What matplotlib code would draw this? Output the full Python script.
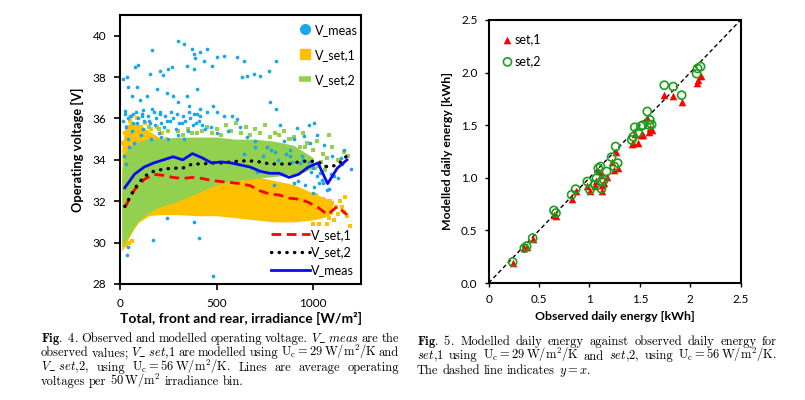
import matplotlib
matplotlib.use("Agg")
import matplotlib.pyplot as plt
from matplotlib.lines import Line2D

plt.rcParams['mathtext.fontset'] = 'cm'
plt.rcParams['font.family'] = ['Lato', 'DejaVu Sans']

# ---- Fig. 4 data: 50 W/m2 bin averages ----
bin_irr = [25, 75, 125, 175, 225, 275, 325, 375, 425, 475, 525, 575, 625, 675,
           725, 775, 825, 875, 925, 975, 1025, 1075, 1125, 1175]
avg_set1 = [31.7, 32.55, 33.05, 33.3, 33.25, 33.15, 33.1, 33.15, 33.1, 33.0, 32.95, 32.9,
            32.85, 32.75, 32.5, 32.35, 32.3, 32.15, 32.1, 31.95, 31.7, 31.35, 31.75, 31.35]
avg_set2 = [31.75, 32.6, 33.2, 33.45, 33.55, 33.6, 33.6, 33.8, 33.8, 33.85, 33.85, 33.9,
            33.95, 33.95, 33.9, 33.8, 33.8, 33.8, 33.9, 33.95, 33.9, 33.65, 33.75, 34.2]
avg_meas = [32.65, 33.3, 33.65, 33.85, 34.0, 34.15, 34.0, 34.3, 34.1, 33.85, 33.9, 33.85,
            33.75, 33.65, 33.45, 33.35, 33.35, 33.15, 33.3, 33.65, 33.85, 32.85, 33.6, 34.0]

# dense parts of the modelled point clouds (envelopes)
set1_band_irr = [10, 25, 50, 75, 100, 150, 200, 300, 400, 500, 600, 700, 800, 900,
                 1000, 1050, 1100]
set1_low = [29.6, 29.8, 30.3, 30.7, 31.0, 31.3, 31.35, 31.35, 31.3, 31.3, 31.2, 31.1,
            31.0, 31.0, 31.1, 31.2, 31.4]
set1_high = [34.6, 35.5, 35.8, 35.8, 35.7, 35.4, 35.1, 34.7, 34.2, 33.7, 33.4, 33.2,
             33.0, 32.8, 32.4, 32.2, 32.0]
set2_band_irr = [10, 25, 50, 75, 100, 150, 200, 300, 400, 500, 600, 700, 800, 900, 950, 1000]
set2_low = [29.8, 30.0, 30.4, 30.8, 31.1, 31.45, 31.7, 32.0, 32.4, 32.8, 33.0, 33.1,
            33.2, 33.3, 33.4, 33.6]
set2_high = [33.5, 34.3, 34.6, 34.8, 34.9, 35.0, 35.0, 35.1, 35.1, 35.1, 35.0, 35.0,
             34.9, 34.7, 34.4, 34.1]

# loose points outside the dense clouds
meas_irr = [17, 35, 43, 61, 78, 95, 87, 104, 121, 52, 69, 138, 164, 156, 190, 208, 225, 251,
            268, 303, 329, 372, 381, 415, 450, 389, 346, 381, 433, 476, 502, 536, 606, 640,
            657, 631, 692, 727, 770, 806, 779, 806, 830, 917, 977, 1003, 1021, 242, 277, 303,
            346, 398, 355, 415, 484, 536, 580, 606, 502, 208, 164, 26, 112, 450, 398, 900,
            952, 986, 1055, 1099, 1142, 1159, 1194, 1003, 1047, 1073, 1038, 934, 900, 839,
            796, 242, 381, 173, 407, 43, 35, 484, 709, 882,
            30, 60, 90, 120, 150, 180, 200, 230, 260, 290, 320, 350, 380, 410, 440, 470,
            40, 75, 110, 160, 210, 250, 300, 330, 20, 30, 45, 500, 560, 620, 660, 700, 760,
            800, 850, 880, 950, 980, 1000, 1060, 1110, 1030, 1080, 1150, 920, 960, 1000,
            25, 55, 85, 115, 145, 175, 205, 235, 265, 295, 325, 355, 385, 415,
            15, 40, 65, 95, 125, 155, 185, 215, 245, 275, 305, 335, 365, 395, 425,
            640, 700, 740, 780, 820, 860, 890, 940, 990, 1020, 1050, 1090, 1130]
meas_v = [37.9, 38.0, 37.5, 37.1, 38.5, 38.6, 37.5, 36.9, 36.4, 36.1, 36.2, 37.1, 39.3, 38.15,
          37.4, 38.3, 38.1, 38.4, 38.5, 39.75, 39.6, 39.35, 39.1, 39.2, 39.35, 38.9, 38.55,
          38.4, 38.8, 38.55, 38.95, 39.0, 38.95, 38.8, 38.05, 38.0, 38.15, 38.05, 38.3, 38.8,
          36.8, 36.45, 35.7, 35.55, 35.7, 35.8, 35.2, 37.25, 37.1, 36.8, 37.1, 37.4, 36.6,
          36.45, 36.6, 36.1, 36.1, 35.95, 36.3, 36.3, 36.45, 36.35, 36.1, 36.3, 36.2, 35.0,
          35.15, 34.8, 34.7, 34.2, 34.1, 34.5, 33.55, 32.7, 33.05, 32.55, 33.35, 33.85, 32.9,
          33.3, 32.8, 31.2, 31.0, 30.15, 30.2, 29.8, 29.4, 28.4, 33.4, 34.2,
          35.6, 35.4, 35.8, 35.5, 35.9, 35.7, 35.3, 35.6, 35.9, 35.5, 35.8, 35.4, 35.7, 35.9,
          35.5, 35.6, 35.0, 34.8, 35.2, 35.0, 35.1, 35.0, 35.2, 35.0, 34.2, 33.8, 34.6, 35.3,
          35.4, 35.6, 35.1, 34.9, 34.6, 34.4, 34.9, 34.5, 34.0, 33.9, 33.6, 33.7, 33.2, 32.9,
          32.6, 33.8, 33.0, 32.8, 32.4,
          36.2, 36.1, 36.3, 36.2, 36.1, 36.3, 36.2, 36.1, 36.3, 36.2, 36.1, 36.3, 36.2, 36.1,
          35.9, 36.0, 35.8, 36.0, 35.9, 35.8, 36.0, 35.8, 35.9, 36.0, 35.8, 35.9, 36.0, 35.8,
          35.7, 34.3, 34.6, 34.2, 34.5, 34.0, 34.3, 33.9, 34.2, 33.4, 33.2, 32.9, 33.3, 33.1]

set1_irr = [15, 25, 35, 50, 70, 90, 110, 130, 160, 190, 220, 240,
            1000, 1030, 1060, 1080, 1100, 1120, 1140, 1160, 1190, 1050, 1110, 1070,
            1130, 1015, 1045, 1085, 1150, 1175, 1165, 30, 60, 45]
set1_v = [34.8, 35.3, 35.6, 35.9, 35.7, 36.0, 35.6, 35.8, 35.5, 35.6, 35.3, 35.0,
          30.9, 30.9, 31.6, 31.2, 31.9, 31.7, 32.0, 31.5, 30.8, 32.1, 31.1, 30.9,
          31.4, 32.3, 31.8, 32.0, 31.7, 31.3, 32.2, 29.9, 30.1, 30.0]

set2_irr = [300, 350, 400, 450, 500, 550, 600, 650, 700, 750, 800, 850, 900, 950, 970, 1000,
            1020, 1050, 1080, 1100, 1130, 1160, 1180, 1010, 1040, 1070, 150, 200, 250, 980,
            930, 880, 325, 375, 425, 475, 525, 575, 625, 675, 725, 775, 825, 875, 960, 1030,
            1060, 990, 945]
set2_v = [35.4, 35.5, 35.3, 35.6, 35.5, 35.7, 35.8, 35.6, 35.5, 35.7, 35.3, 35.4, 35.1, 35.3,
          34.8, 34.5, 34.9, 34.3, 35.2, 34.6, 34.0, 34.4, 34.2, 33.6, 33.9, 34.1, 35.6, 35.5,
          35.4, 34.1, 34.6, 35.0, 35.2, 35.3, 35.4, 35.3, 35.2, 35.4, 35.3, 35.2, 35.3, 35.1,
          35.2, 35.0, 34.6, 33.7, 33.5, 33.9, 34.0]

# ---- Fig. 5 data: daily energy [kWh] ----
obs_energy = [0.238, 0.354, 0.377, 0.437, 0.648, 0.668, 0.823, 0.863, 0.979, 1.005, 1.07,
              1.088, 1.11, 1.12, 1.12, 1.144, 1.17, 1.22, 1.247, 1.26, 1.28, 1.42, 1.435,
              1.45, 1.485, 1.51, 1.53, 1.574, 1.594, 1.60, 1.617, 1.743, 1.832, 1.915, 2.063,
              2.073, 2.103, 1.055]
mod_set1 = [0.19, 0.332, 0.34, 0.42, 0.649, 0.64, 0.797, 0.87, 0.918, 0.87, 0.965, 1.06,
            1.03, 0.93, 0.87, 0.95, 1.01, 1.146, 1.076, 1.25, 1.09, 1.32, 1.33, 1.418, 1.33,
            1.41, 1.41, 1.566, 1.44, 1.47, 1.45, 1.79, 1.78, 1.72, 1.905, 1.93, 1.968, 0.918]
mod_set2 = [0.20, 0.332, 0.35, 0.427, 0.69, 0.665, 0.839, 0.892, 0.965, 0.886, 0.997, 1.09,
            1.107, 0.965, 0.895, 0.98, 1.06, 1.196, 1.107, 1.297, 1.14, 1.36, 1.39, 1.48, 1.43,
            1.49, 1.50, 1.63, 1.50, 1.55, 1.506, 1.88, 1.867, 1.785, 1.99, 2.04, 2.057, 0.934]

c_meas = '#18A8E8'
c_set1 = '#FFC000'
c_set2 = '#92D050'

fig = plt.figure(figsize=(8.05, 4.0), dpi=100)

# ================= Fig. 4 =================
ax1 = fig.add_axes([0.149, 0.29, 0.300, 0.6725])
ax1.fill_between(set1_band_irr, set1_low, set1_high, color=c_set1, lw=0, zorder=1)
ax1.scatter(set1_irr, set1_v, s=12, marker='s', color=c_set1, lw=0, zorder=1)
ax1.fill_between(set2_band_irr, set2_low, set2_high, color=c_set2, lw=0, zorder=2)
ax1.scatter(set2_irr, set2_v, s=5, marker='s', color=c_set2, lw=0, zorder=2)
ax1.scatter(meas_irr, meas_v, s=7, color=c_meas, lw=0, zorder=3)

ax1.plot(bin_irr, avg_set1, color='#FF0000', lw=2, ls=(0, (3.5, 2)), zorder=4)
ax1.plot(bin_irr, avg_set2, color='black', lw=2.4, ls=(0, (0.1, 2.2)),
         dash_capstyle='round', zorder=4)
ax1.plot(bin_irr, avg_meas, color='#0A0AF0', lw=2, zorder=4)

ax1.set_xlim(0, 1250)
ax1.set_ylim(28, 41)
ax1.set_xticks([0, 500, 1000])
ax1.set_yticks(range(28, 41, 2))
ax1.tick_params(labelsize=8.5, length=4, width=1.2, pad=6)
for sp in ax1.spines.values():
    sp.set_linewidth(1.5)
ax1.set_xlabel('Total, front and rear, irradiance [W/m²]', fontsize=10,
               fontweight='bold', labelpad=2)
ax1.set_ylabel('Operating voltage [V]', fontsize=9.3, fontweight='bold', labelpad=6)

pts = [Line2D([], [], ls='', marker='o', ms=7, color=c_meas),
       Line2D([], [], ls='', marker='s', ms=7, color=c_set1),
       Line2D([], [], ls='', marker='_', ms=9, mew=4, color=c_set2)]
leg1 = ax1.legend(pts, ['V_meas', 'V_set,1', 'V_set,2'], loc='upper right',
                  bbox_to_anchor=(0.985, 0.968), frameon=False, fontsize=9,
                  handlelength=1.0, handletextpad=0.3, labelspacing=1.05,
                  borderpad=0, borderaxespad=0)
ax1.add_artist(leg1)
lns = [Line2D([], [], color='#FF0000', lw=2, ls=(0, (3.5, 2))),
       Line2D([], [], color='black', lw=2.4, ls=(0, (0.1, 2.2)), dash_capstyle='round'),
       Line2D([], [], color='#0A0AF0', lw=2)]
ax1.legend(lns, ['V_set,1', 'V_set,2', 'V_meas'], loc='lower right',
           bbox_to_anchor=(0.97, 0.03), frameon=False, fontsize=9,
           handlelength=3.1, handletextpad=0.1, labelspacing=0.45,
           borderpad=0, borderaxespad=0)

# ================= Fig. 5 =================
ax2 = fig.add_axes([0.607, 0.2925, 0.313, 0.6575])
ax2.plot([0, 2.5], [0, 2.5], color='black', lw=1, ls=(0, (3, 2)), zorder=1)
ax2.scatter(obs_energy, mod_set1, s=30, marker='^', color='#FF0000', lw=0,
            zorder=2, label='set,1')
ax2.scatter(obs_energy, mod_set2, s=34, marker='o', facecolors='none',
            edgecolors='#1E9E1E', lw=1.2, zorder=3, label='set,2')
ax2.set_xlim(0, 2.5)
ax2.set_ylim(0, 2.5)
ax2.set_xticks([0, 0.5, 1, 1.5, 2, 2.5])
ax2.set_xticklabels(['0', '0.5', '1', '1.5', '2', '2.5'])
ax2.set_yticks([0, 0.5, 1, 1.5, 2, 2.5])
ax2.set_yticklabels(['0.0', '0.5', '1.0', '1.5', '2.0', '2.5'])
ax2.tick_params(labelsize=8.5, length=3, width=1, pad=5)
for sp in ax2.spines.values():
    sp.set_linewidth(1.5)
ax2.set_xlabel('Observed daily energy [kWh]', fontsize=8.8, fontweight='bold', labelpad=4)
ax2.set_ylabel('Modelled daily energy [kWh]', fontsize=8.8, fontweight='bold', labelpad=6)
ax2.legend(loc='upper left', bbox_to_anchor=(0.055, 0.95), frameon=False, fontsize=9,
           handlelength=0.8, handletextpad=0.2, labelspacing=0.8,
           borderpad=0, borderaxespad=0)

# ================= captions (justified) =================
cap4 = [[r"$\mathbf{Fig.\ 4.}$", "Observed", "and", "modelled", "operating", "voltage.",
         r"$V\_\ \mathit{meas}$", "are", "the"],
        ["observed", "values;", r"$V\_\ \mathit{set{,}1}$", "are", "modelled", "using",
         r"$\mathrm{U_c=29\,W/m^2/K}$", "and"],
        [r"$V\_\ \mathit{set{,}2}{,}$", "using", r"$\mathrm{U_c=56\,W/m^2/K}.$", "Lines",
         "are", "average", "operating"],
        ["voltages", "per", r"$\mathrm{50\,W/m^2}$", "irradiance", "bin."]]
cap5 = [[r"$\mathbf{Fig.\ 5.}$", "Modelled", "daily", "energy", "against", "observed",
         "daily", "energy", "for"],
        [r"$\mathit{set{,}1}$", "using", r"$\mathrm{U_c=29\,W/m^2/K}$", "and",
         r"$\mathit{set{,}2}{,}$", "using", r"$\mathrm{U_c=56\,W/m^2/K}.$"],
        ["The", "dashed", "line", "indicates", r"$y=x.$"]]

renderer = fig.canvas.get_renderer()
W = fig.bbox.width
H = fig.bbox.height
fs = 9.0


def caption(lines, x0, x1, y0, dy):
    for i, toks in enumerate(lines):
        y = 1 - (y0 + i * dy) / H
        texts = [fig.text(0, y, t, fontsize=fs, family='cmr10', va='baseline')
                 for t in toks]
        widths = [t.get_window_extent(renderer).width for t in texts]
        if i == len(lines) - 1:
            gap = 0.3 * fs * 100 / 72
        else:
            gap = (x1 - x0 - sum(widths)) / (len(toks) - 1)
        x = x0
        for t, w in zip(texts, widths):
            t.set_x(x / W)
            x += w + gap


caption(cap4, 41, 399, 342, 14.3)
caption(cap5, 417, 777, 345, 14.5)

fig.savefig('out.png', dpi=100)
